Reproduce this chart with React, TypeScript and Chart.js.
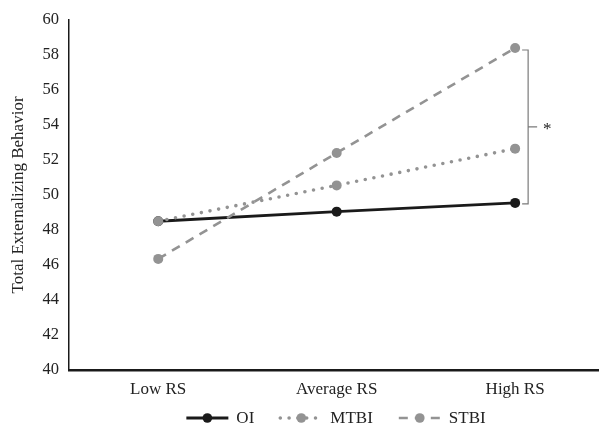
import React, { useEffect, useRef } from "react";
import { Chart, registerables } from "chart.js";

Chart.register(...registerables);

// ---- data ----
const categories = ["Low RS", "Average RS", "High RS"];
const seriesNames = ["OI", "MTBI", "STBI"];
const oiValues = [48.5, 49.05, 49.55];
const mtbiValues = [48.5, 50.55, 52.65];
const stbiValues = [46.35, 52.4, 58.4];
const yTicks = [40, 42, 44, 46, 48, 50, 52, 54, 56, 58, 60];
const yTitle = "Total Externalizing Behavior";
const significanceMark = "*";

const FONT = "'Liberation Serif', 'Times New Roman', serif";
const BLACK = "#1a1a1a";
const GRAY = "#939393";
const TEXT = "#222222";

type Style = { color: string; width: number; dash: number[]; cap: CanvasLineCap };
const styles: Style[] = [
  { color: BLACK, width: 3, dash: [], cap: "butt" },
  { color: GRAY, width: 3.6, dash: [0, 8.8], cap: "round" },
  { color: GRAY, width: 2.6, dash: [9, 7], cap: "butt" },
];

const legendPlugin = {
  id: "customLegend",
  afterDraw(chart: any) {
    const ctx: CanvasRenderingContext2D = chart.ctx;
    const y = chart.height - 9;
    ctx.save();
    ctx.font = `17px ${FONT}`;
    const symW = 42;
    const gapText = 8;
    const gapItem = 26;
    const widths = seriesNames.map((n) => ctx.measureText(n).width);
    const total =
      widths.reduce((a, w) => a + symW + gapText + w, 0) + gapItem * (seriesNames.length - 1);
    let x = (chart.chartArea.left + chart.chartArea.right) / 2 + 2 - total / 2;
    seriesNames.forEach((name, i) => {
      const s = styles[i];
      ctx.beginPath();
      ctx.strokeStyle = s.color;
      ctx.lineWidth = s.width;
      ctx.lineCap = s.cap;
      ctx.setLineDash(s.dash);
      ctx.moveTo(x, y);
      ctx.lineTo(x + symW, y);
      ctx.stroke();
      ctx.setLineDash([]);
      ctx.beginPath();
      ctx.fillStyle = s.color;
      ctx.arc(x + symW / 2, y, 4.8, 0, Math.PI * 2);
      ctx.fill();
      ctx.fillStyle = TEXT;
      ctx.textAlign = "left";
      ctx.textBaseline = "middle";
      ctx.fillText(name, x + symW + gapText, y + 1);
      x += symW + gapText + widths[i] + gapItem;
    });
    ctx.restore();
  },
};

const bracketPlugin = {
  id: "bracket",
  afterDatasetsDraw(chart: any) {
    const ctx: CanvasRenderingContext2D = chart.ctx;
    const xs = chart.scales.x;
    const ys = chart.scales.y;
    const last = categories.length - 1;
    const x = xs.getPixelForValue(last) + 13;
    const top = ys.getPixelForValue(stbiValues[last]) + 2;
    const bot = ys.getPixelForValue(oiValues[last]) + 1;
    const mid = (top + bot) / 2;
    ctx.save();
    ctx.strokeStyle = "#7a7a7a";
    ctx.lineWidth = 1.2;
    ctx.beginPath();
    ctx.moveTo(x - 6, top);
    ctx.lineTo(x, top);
    ctx.lineTo(x, bot);
    ctx.lineTo(x - 6, bot);
    ctx.moveTo(x, mid);
    ctx.lineTo(x + 9, mid);
    ctx.stroke();
    ctx.fillStyle = TEXT;
    ctx.font = `17px ${FONT}`;
    ctx.textAlign = "center";
    ctx.textBaseline = "middle";
    ctx.fillText(significanceMark, x + 19, mid + 3);
    ctx.restore();
  },
};

export default function App() {
  const ref = useRef<HTMLCanvasElement>(null);
  useEffect(() => {
    if (!ref.current) return;
    const allValues = [oiValues, mtbiValues, stbiValues];
    const chart = new Chart(ref.current, {
      type: "line",
      data: {
        datasets: seriesNames.map((name, i) => ({
          label: name,
          data: allValues[i].map((v, j) => ({ x: j, y: v })),
          borderColor: styles[i].color,
          backgroundColor: styles[i].color,
          borderWidth: styles[i].width,
          borderDash: styles[i].dash,
          borderCapStyle: styles[i].cap,
          pointRadius: 5,
          pointBorderWidth: 0,
          pointBackgroundColor: styles[i].color,
          tension: 0,
          fill: false,
          order: seriesNames.length - i,
        })),
      },
      options: {
        animation: false,
        responsive: false,
        layout: { autoPadding: false, padding: { top: 20, right: 0, bottom: 0, left: 0 } },
        plugins: {
          legend: { display: false },
          tooltip: { enabled: false },
        },
        scales: {
          x: {
            type: "linear",
            min: -0.5,
            max: 2.47,
            afterBuildTicks: (s: any) => {
              s.ticks = categories.map((_, i) => ({ value: i }));
            },
            afterFit: (s: any) => {
              s.height = 57;
              s.paddingLeft = 0;
              s.paddingRight = 0;
            },
            ticks: {
              callback: (v: any) => categories[v as number] ?? "",
              font: { family: FONT, size: 17 },
              color: TEXT,
              padding: 9,
              maxRotation: 0,
              autoSkip: false,
            },
            grid: { display: false, drawTicks: false },
            border: { display: true, color: BLACK, width: 2.5 },
          },
          y: {
            min: 40,
            max: 60,
            afterBuildTicks: (s: any) => {
              s.ticks = yTicks.map((v) => ({ value: v }));
            },
            afterFit: (s: any) => {
              s.width = 69;
            },
            ticks: {
              font: { family: FONT, size: 16.5 },
              color: TEXT,
              padding: 10,
            },
            grid: { display: false, drawTicks: false },
            border: { display: true, color: BLACK, width: 1.5 },
            title: {
              display: true,
              text: yTitle,
              font: { family: FONT, size: 17 },
              color: TEXT,
              padding: { top: 8, bottom: 0 },
            },
          },
        },
      },
      plugins: [bracketPlugin, legendPlugin],
    } as any);
    return () => chart.destroy();
  }, []);
  return (
    <div style={{ position: "fixed", left: 0, top: 0, width: 599, height: 427, background: "#fff" }}>
      <canvas ref={ref} width={599} height={427} />
    </div>
  );
}
